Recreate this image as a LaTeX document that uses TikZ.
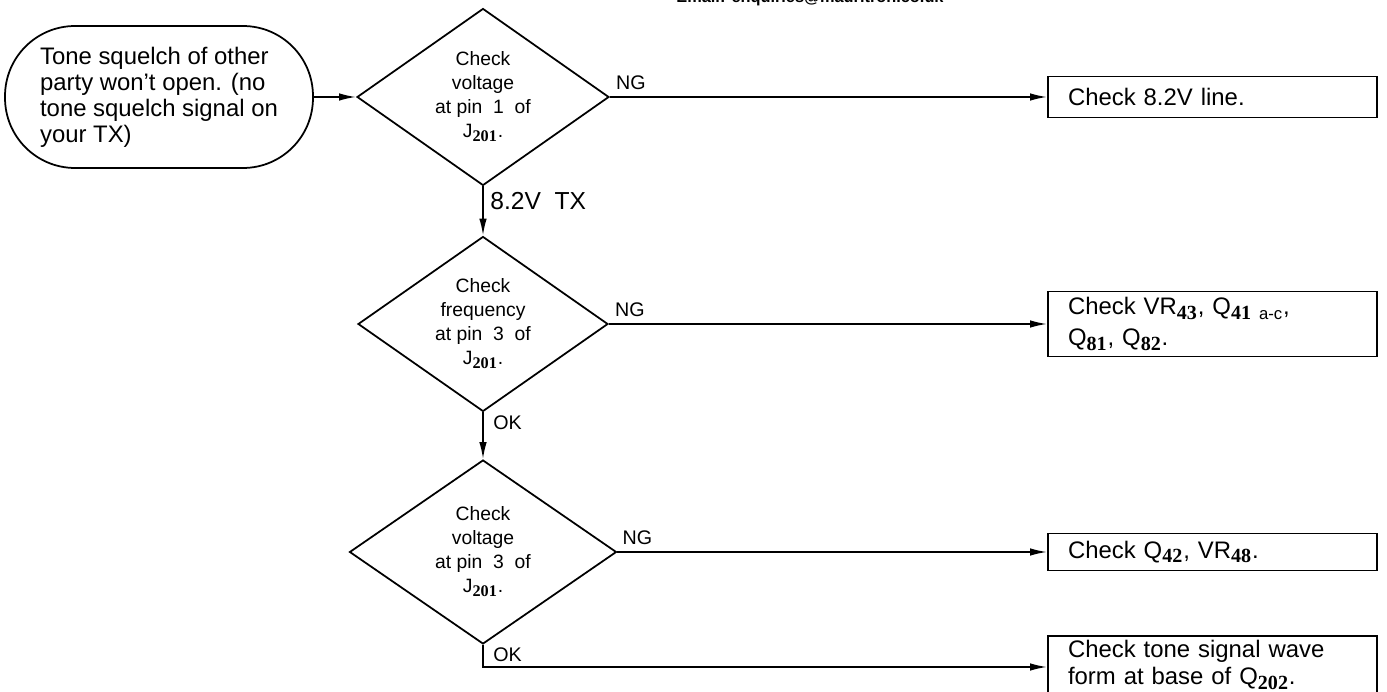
\documentclass[tikz,border=0pt]{standalone}
\usepackage{fontspec}
\setmainfont{Liberation Sans}
\newfontfamily\subserif{Liberation Serif}
\usepackage{graphicx}
\usepackage{tikz}
\usetikzlibrary{arrows.meta,positioning,shapes.geometric}
\newcommand{\sbs}[1]{\textsubscript{\scalebox{1.2}{\subserif\bfseries #1}}}
\tikzset{
  ar/.style={-{Latex[length=3.4mm,width=1.5mm]},line width=1pt},
  dec/.style={draw,line width=1pt,shape=diamond,shape aspect=1.42,inner sep=0pt,align=center,font=\fontsize{11}{13.6}\selectfont},
  chk/.style={draw,line width=1pt,align=left,text width=5.78cm,inner xsep=0.4cm,inner ysep=0pt,font=\fontsize{13.6}{15.5}\selectfont},
  lbl/.style={inner sep=0pt,font=\fontsize{11.2}{13}\selectfont}
}
\begin{document}
\begin{tikzpicture}[x=0.02cm,y=-0.02cm]
\useasboundingbox (0,0) rectangle (1387,692);
\node[font=\fontsize{9.3}{11}\selectfont\bfseries,anchor=base,inner sep=0pt] (mail) at (810,3) {Email: enquiries@mauritron.co.uk};
\node[draw,line width=1pt,rounded corners=1.4cm,minimum width=6.16cm,minimum height=2.84cm,align=left,font=\fontsize{13.6}{14.8}\selectfont] (start) at (159,97) {Tone squelch of other\\party won’t open. (no\\tone squelch signal on\\your TX)};
\node[dec,minimum width=5.04cm,minimum height=3.54cm] (d1) at (483,97) {Check\\voltage\\at pin~~1~~of\\J\sbs{201}.};
\node[dec,minimum width=5cm,minimum height=3.5cm] (d2) at (483,324) {Check\\frequency\\at pin~~3~~of\\J\sbs{201}.};
\node[dec,minimum width=5.34cm,minimum height=3.68cm] (d3) at (483,552) {Check\\voltage\\at pin~~3~~of\\J\sbs{201}.};
\node[chk,minimum height=0.82cm] (b1) at (1212.5,97) {Check 8.2V line.};
\node[chk,minimum height=1.3cm,font=\fontsize{13.6}{17.5}\selectfont] (b2) at (1212.5,324) {Check VR\sbs{43}, Q\textsubscript{\scalebox{1.2}{\subserif\bfseries 41} a-c},\\Q\sbs{81}, Q\sbs{82}.};
\node[chk,minimum height=0.74cm] (b3) at (1212.5,552) {Check Q\sbs{42}, VR\sbs{48}.};
\node[chk,minimum height=1.24cm,text depth=0.74cm] (b4) at (1212.5,667) {Check tone signal wave\\form at base of Q\sbs{202}.};
\draw[ar] (start) -- (d1);
\draw[ar] (d1) -- (b1);
\draw[ar] (d1) -- (d2);
\draw[ar] (d2) -- (b2);
\draw[ar] (d2) -- (d3);
\draw[ar] (d3) -- (b3);
\draw[ar] (d3.south) |- (b4.west);
\node[lbl,anchor=south west] (ng1) at ([xshift=0.12cm,yshift=0.14cm]d1.east) {NG};
\node[inner sep=0pt,anchor=west,font=\fontsize{14}{16}\selectfont] (v82) at ([xshift=0.14cm,yshift=-0.3cm]d1.south) {8.2V~~TX};
\node[lbl,anchor=south west] (ng2) at ([xshift=0.12cm,yshift=0.14cm]d2.east) {NG};
\node[lbl,anchor=west] (ok1) at ([xshift=0.2cm,yshift=-0.2cm]d2.south) {OK};
\node[lbl,anchor=south west] (ng3) at ([xshift=0.1cm,yshift=0.14cm]d3.east) {NG};
\node[lbl,anchor=west] (ok2) at ([xshift=0.2cm,yshift=-0.2cm]d3.south) {OK};
\end{tikzpicture}
\end{document}
